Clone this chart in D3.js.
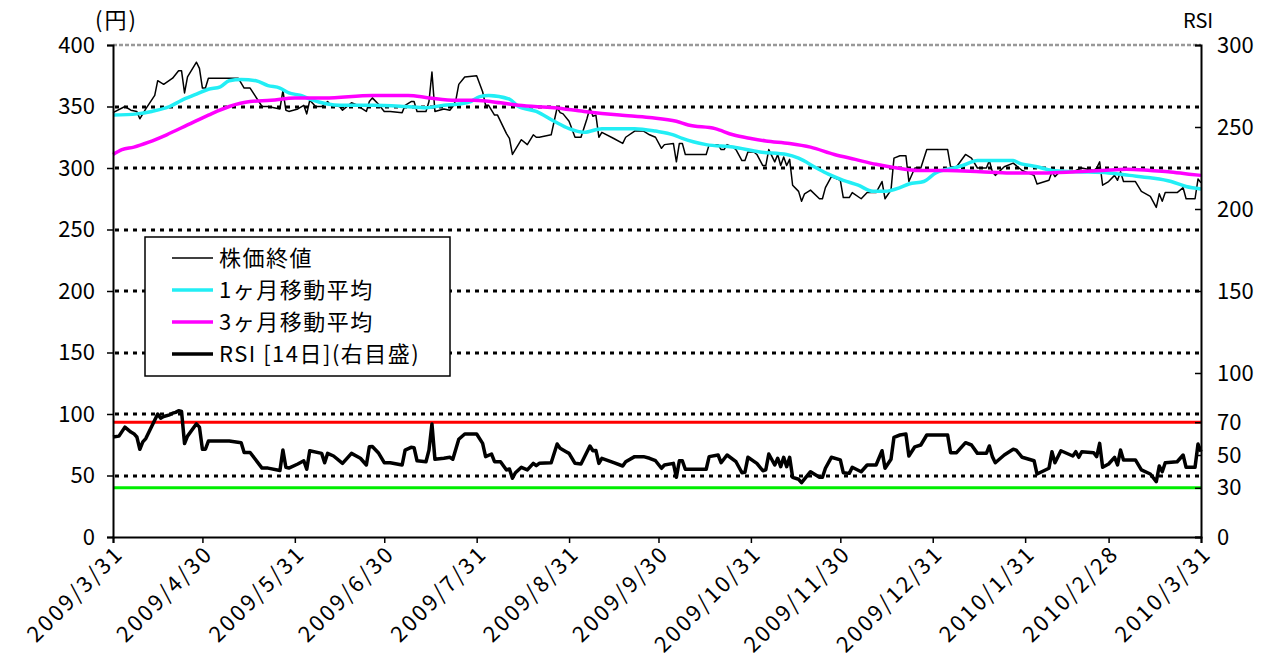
<!DOCTYPE html>
<html>
<head>
<meta charset="utf-8">
<script src="https://cdn.jsdelivr.net/npm/d3@7"></script>
<style>
  body { margin: 0; background: #fff; }
  text { font-family: "Noto Sans CJK JP", "Noto Sans", sans-serif; fill: #000; }
</style>
</head>
<body>
<div class="rsiChart"></div>
<script>
// closing price (yen)
const closePrices = [
  ["2009-03-31",345],["2009-04-04",350],["2009-04-06",347],["2009-04-08",346],["2009-04-09",340],["2009-04-11",348],["2009-04-14",359],["2009-04-15",371],["2009-04-17",368],["2009-04-20",373],["2009-04-22",379],["2009-04-23",379],["2009-04-24",361],["2009-04-25",374],["2009-04-28",386],["2009-04-29",381],["2009-04-30",365],["2009-05-01",365],["2009-05-02",373],["2009-05-09",373],["2009-05-12",373],["2009-05-14",365],["2009-05-16",365],["2009-05-20",350],["2009-05-22",350],["2009-05-26",348],["2009-05-27",363],["2009-05-28",347],["2009-05-29",346],
  ["2009-06-01",348],["2009-06-03",351],["2009-06-04",344],["2009-06-05",355],["2009-06-07",350],["2009-06-09",350],["2009-06-11",354],["2009-06-12",351],["2009-06-15",350],["2009-06-16",347],["2009-06-19",353],["2009-06-21",351],["2009-06-22",349],["2009-06-24",346],["2009-06-25",354],["2009-06-26",357],["2009-06-28",352],["2009-06-30",346],
  ["2009-07-02",346],["2009-07-06",345],["2009-07-07",351],["2009-07-09",354],["2009-07-10",354],["2009-07-11",346],["2009-07-14",346],["2009-07-15",354],["2009-07-16",378],["2009-07-17",346],["2009-07-20",348],["2009-07-22",347],["2009-07-23",350],["2009-07-24",355],["2009-07-25",368],["2009-07-27",374],["2009-07-31",375],
  ["2009-08-02",362],["2009-08-03",351],["2009-08-04",351],["2009-08-06",343],["2009-08-07",343],["2009-08-10",328],["2009-08-11",324],["2009-08-12",311],["2009-08-15",323],["2009-08-17",319],["2009-08-19",327],["2009-08-20",325],["2009-08-21",325],["2009-08-25",327],["2009-08-26",338],["2009-08-27",349],["2009-08-28",345],["2009-08-29",344],["2009-08-31",338],
  ["2009-09-02",325],["2009-09-04",325],["2009-09-06",340],["2009-09-07",349],["2009-09-08",342],["2009-09-09",343],["2009-09-10",325],["2009-09-11",329],["2009-09-15",324],["2009-09-18",320],["2009-09-19",325],["2009-09-22",330],["2009-09-25",330],["2009-09-27",327],["2009-09-29",325],
  ["2009-10-01",316],["2009-10-02",319],["2009-10-05",320],["2009-10-06",305],["2009-10-07",320],["2009-10-08",320],["2009-10-09",311],["2009-10-16",311],["2009-10-17",319],["2009-10-20",319],["2009-10-21",315],["2009-10-22",315],["2009-10-23",319],["2009-10-25",317],["2009-10-26",315],["2009-10-28",306],["2009-10-29",306],["2009-10-30",313],
  ["2009-11-01",313],["2009-11-02",311],["2009-11-04",302],["2009-11-05",302],["2009-11-06",315],["2009-11-08",305],["2009-11-09",311],["2009-11-10",302],["2009-11-11",309],["2009-11-12",302],["2009-11-13",307],["2009-11-14",286],["2009-11-16",281],["2009-11-17",273],["2009-11-18",279],["2009-11-20",282],["2009-11-23",275],["2009-11-24",275],["2009-11-25",284],["2009-11-27",293],["2009-11-30",290],
  ["2009-12-01",276],["2009-12-03",276],["2009-12-04",280],["2009-12-07",275],["2009-12-09",280],["2009-12-12",280],["2009-12-14",289],["2009-12-15",275],["2009-12-17",282],["2009-12-18",308],["2009-12-20",310],["2009-12-22",310],["2009-12-23",289],["2009-12-25",300],["2009-12-27",300],["2009-12-29",315],
  ["2010-01-05",315],["2010-01-06",301],["2010-01-08",301],["2010-01-11",311],["2010-01-13",308],["2010-01-15",300],["2010-01-18",300],["2010-01-19",306],["2010-01-20",297],["2010-01-21",294],["2010-01-24",301],["2010-01-27",304],["2010-01-30",298],
  ["2010-02-03",294],["2010-02-04",287],["2010-02-08",290],["2010-02-09",297],["2010-02-10",293],["2010-02-12",298],["2010-02-15",297],["2010-02-17",298],["2010-02-19",300],["2010-02-23",298],["2010-02-24",300],["2010-02-25",305],["2010-02-26",286],["2010-02-28",289],
  ["2010-03-02",294],["2010-03-03",290],["2010-03-04",297],["2010-03-05",289],["2010-03-09",289],["2010-03-11",281],["2010-03-14",277],["2010-03-16",268],["2010-03-17",279],["2010-03-18",273],["2010-03-19",280],["2010-03-23",280],["2010-03-25",284],["2010-03-26",275],["2010-03-29",275],["2010-03-30",291],["2010-03-31",288]
];

// 1 month moving average
const ma1Month = [
  ["2009-03-31",343],["2009-04-08",344],["2009-04-13",346],["2009-04-19",350],["2009-04-23",355],["2009-04-28",360],["2009-05-02",364],["2009-05-06",366],["2009-05-09",371],["2009-05-13",372],["2009-05-18",371],["2009-05-22",367],["2009-05-26",365],["2009-05-29",361],
  ["2009-06-02",359],["2009-06-05",356],["2009-06-11",352],["2009-06-15",351],["2009-06-26",351],["2009-07-07",350],["2009-07-14",349],["2009-07-20",351],["2009-07-25",352],["2009-07-29",354],
  ["2009-08-01",358],["2009-08-04",359],["2009-08-11",356],["2009-08-14",350],["2009-08-20",346],["2009-08-26",338],["2009-08-31",332],["2009-09-05",329],["2009-09-11",332],["2009-09-22",332],["2009-09-29",330],
  ["2009-10-05",327],["2009-10-08",324],["2009-10-16",319],["2009-10-25",317],["2009-11-03",313],["2009-11-12",311],["2009-11-16",308],["2009-11-22",300],["2009-11-26",295],
  ["2009-12-01",290],["2009-12-06",286],["2009-12-11",281],["2009-12-15",281],["2009-12-20",284],["2009-12-23",287],["2009-12-28",289],
  ["2010-01-01",296],["2010-01-07",300],["2010-01-10",302],["2010-01-15",306],["2010-01-21",306],["2010-01-27",306],["2010-01-29",304],
  ["2010-02-04",301],["2010-02-09",298],["2010-02-17",297],["2010-02-28",296],["2010-03-07",294],["2010-03-14",292],["2010-03-21",289],["2010-03-26",285],["2010-03-31",283]
];

// 3 month moving average
const ma3Month = [
  ["2009-03-31",311],["2009-04-03",315],["2009-04-07",317],["2009-04-12",321],["2009-04-18",327],["2009-04-25",335],["2009-05-02",343],["2009-05-09",350],["2009-05-16",354],["2009-05-23",355],["2009-05-31",357],
  ["2009-06-10",357],["2009-06-26",359],["2009-07-08",359],["2009-07-15",357],["2009-07-24",355],["2009-07-30",355],["2009-08-08",353],["2009-08-14",351],["2009-08-26",349],
  ["2009-09-05",346],["2009-09-17",343],["2009-09-27",341],["2009-10-06",338],["2009-10-10",335],["2009-10-19",332],["2009-10-25",327],["2009-10-31",324],
  ["2009-11-05",322],["2009-11-13",320],["2009-11-20",317],["2009-11-28",311],["2009-12-05",307],["2009-12-12",303],["2009-12-19",300],["2009-12-26",298],
  ["2010-01-05",298],["2010-01-16",297],["2010-01-26",296],["2010-02-06",296],["2010-02-17",297],["2010-02-26",298],["2010-03-06",299],["2010-03-14",298],["2010-03-20",297],["2010-03-27",295],["2010-03-31",294]
];

// RSI 14 days (right scale)
const rsi14 = [
  ["2009-03-31",61],["2009-04-02",61.5],["2009-04-04",67],["2009-04-06",64],["2009-04-07",63],["2009-04-08",61],["2009-04-09",53.5],["2009-04-10",58],["2009-04-11",60],["2009-04-15",75],["2009-04-16",72.5],["2009-04-17",73.5],["2009-04-19",74.5],["2009-04-20",75.5],["2009-04-21",76],["2009-04-22",77],["2009-04-23",76.5],["2009-04-24",57],["2009-04-25",61.5],["2009-04-28",69],["2009-04-29",67],["2009-04-30",53.5],
  ["2009-05-01",53.5],["2009-05-02",58.5],["2009-05-09",58.5],["2009-05-13",57.5],["2009-05-14",51.5],["2009-05-16",51.5],["2009-05-20",42],["2009-05-22",42],["2009-05-26",40.5],["2009-05-27",53],["2009-05-28",42.5],["2009-05-29",42],
  ["2009-06-01",44.5],["2009-06-03",46.5],["2009-06-04",41.3],["2009-06-05",52.6],["2009-06-09",51],["2009-06-10",45.3],["2009-06-11",51],["2009-06-13",49.4],["2009-06-16",44.9],["2009-06-19",51],["2009-06-22",48],["2009-06-24",43.9],["2009-06-25",55],["2009-06-26",55.2],["2009-06-28",51.4],["2009-06-30",45.3],
  ["2009-07-02",45.3],["2009-07-06",43.9],["2009-07-07",53],["2009-07-09",54.7],["2009-07-10",54.5],["2009-07-11",46.5],["2009-07-14",45.9],["2009-07-15",53],["2009-07-16",68.9],["2009-07-17",47.4],["2009-07-20",48],["2009-07-22",48.6],["2009-07-23",47.4],["2009-07-25",59.6],["2009-07-27",62.8],["2009-07-31",62.8],
  ["2009-08-02",57.1],["2009-08-03",49],["2009-08-05",50.6],["2009-08-06",45.9],["2009-08-08",45.9],["2009-08-10",40.9],["2009-08-11",41.5],["2009-08-12",35.8],["2009-08-13",39.2],["2009-08-15",42.5],["2009-08-17",40.9],["2009-08-19",44.9],["2009-08-20",43.5],["2009-08-21",44.9],["2009-08-25",45.3],["2009-08-27",56.7],["2009-08-28",54.1],["2009-08-30",52],["2009-08-31",51],
  ["2009-09-02",44.9],["2009-09-04",44.5],["2009-09-07",55.5],["2009-09-08",52.6],["2009-09-09",52.8],["2009-09-10",44.9],["2009-09-11",48],["2009-09-15",45.3],["2009-09-18",43.3],["2009-09-19",45.9],["2009-09-22",49],["2009-09-25",49],["2009-09-27",48],["2009-09-29",46.5],
  ["2009-10-01",41.9],["2009-10-02",43.9],["2009-10-05",44.9],["2009-10-06",36.4],["2009-10-07",46.5],["2009-10-08",46.5],["2009-10-09",41.3],["2009-10-16",41.3],["2009-10-17",49],["2009-10-20",50],["2009-10-21",45.3],["2009-10-23",50],["2009-10-26",45.9],["2009-10-28",39.2],["2009-10-29",39.5],["2009-10-30",48.6],
  ["2009-11-02",44.9],["2009-11-04",40.4],["2009-11-05",41],["2009-11-06",50.6],["2009-11-08",43.9],["2009-11-09",48],["2009-11-10",42.9],["2009-11-11",48.6],["2009-11-12",42.9],["2009-11-13",48.6],["2009-11-14",36.4],["2009-11-16",35.2],["2009-11-17",33.1],["2009-11-20",39.8],["2009-11-23",36.4],["2009-11-24",36.4],["2009-11-25",41.9],["2009-11-27",48.6],["2009-11-30",47],
  ["2009-12-01",39.2],["2009-12-03",38.8],["2009-12-04",42.5],["2009-12-07",39.8],["2009-12-09",43.9],["2009-12-12",43.9],["2009-12-14",52.6],["2009-12-15",41.9],["2009-12-17",47.4],["2009-12-18",60.8],["2009-12-20",62.2],["2009-12-22",62.8],["2009-12-23",49.4],["2009-12-25",55],["2009-12-27",56.1],["2009-12-29",62.2],
  ["2010-01-05",62.2],["2010-01-06",51.4],["2010-01-08",51.4],["2010-01-11",57.5],["2010-01-13",56.1],["2010-01-15",51],["2010-01-18",51],["2010-01-19",55.5],["2010-01-20",49],["2010-01-21",45.3],["2010-01-24",50],["2010-01-27",53.5],["2010-01-28",53],["2010-01-30",48.6],
  ["2010-02-03",46.5],["2010-02-04",38.4],["2010-02-08",41.9],["2010-02-09",52],["2010-02-10",45.3],["2010-02-12",52.6],["2010-02-16",49.4],["2010-02-17",52],["2010-02-18",48.6],["2010-02-19",52],["2010-02-23",51.4],["2010-02-24",49],["2010-02-25",57.1],["2010-02-26",42.5],["2010-02-28",44.5],
  ["2010-03-02",48.6],["2010-03-03",44],["2010-03-04",53],["2010-03-05",47],["2010-03-09",47],["2010-03-11",40.9],["2010-03-14",38.4],["2010-03-16",33.7],["2010-03-17",43.3],["2010-03-18",39.8],["2010-03-19",45.3],["2010-03-23",45.9],["2010-03-25",50],["2010-03-26",42.5],["2010-03-29",42.5],["2010-03-30",56.7],["2010-03-31",52]
];

const xTickDates = ["2009-03-31","2009-04-30","2009-05-31","2009-06-30","2009-07-31","2009-08-31","2009-09-30","2009-10-31","2009-11-30","2009-12-31","2010-01-31","2010-02-28","2010-03-31"];
const leftTicks = [0, 50, 100, 150, 200, 250, 300, 350, 400];
const rightTicks = [0, 30, 50, 70, 100, 150, 200, 250, 300];
const rsiBands = [70, 30];
const legendLabels = ["株価終値", "1ヶ月移動平均", "3ヶ月移動平均", "RSI [14日](右目盛)"];

const width = 1272, height = 665;
const margin = { left: 113, right: 71, top: 45, bottom: 128 };
const parse = d3.timeParse("%Y-%m-%d");
const fmtTick = d3.timeFormat("%Y/%-m/%-d");

const svg = d3.select(".rsiChart").append("svg")
  .attr("width", width)
  .attr("height", height);

const x = d3.scaleTime()
  .domain([parse("2009-03-31"), parse("2010-03-31")])
  .range([margin.left, width - margin.right]);
const y = d3.scaleLinear().domain([0, 400]).range([height - margin.bottom, margin.top]);
const yR = d3.scaleLinear().domain([0, 300]).range([height - margin.bottom, margin.top]);

const x0 = margin.left, x1 = width - margin.right;
const yBottom = height - margin.bottom;

// grid lines
svg.append("g").selectAll("line")
  .data(leftTicks.filter(d => d > 0 && d < 400))
  .enter().append("line")
  .attr("x1", x0 + 2).attr("x2", x1)
  .attr("y1", d => Math.round(y(d))).attr("y2", d => Math.round(y(d)))
  .style("stroke", "#000")
  .style("stroke-width", 3)
  .style("stroke-dasharray", "4,5");

svg.append("line")
  .attr("x1", x0).attr("x2", x1)
  .attr("y1", y(400)).attr("y2", y(400))
  .style("stroke", "#999")
  .style("stroke-width", 2.5)
  .style("stroke-dasharray", "4,2");

// RSI 70 / 30 bands
svg.append("g").selectAll("line")
  .data(rsiBands)
  .enter().append("line")
  .attr("x1", x0).attr("x2", x1)
  .attr("y1", d => yR(d)).attr("y2", d => yR(d))
  .style("stroke", d => d === 70 ? "#ff0000" : "#00ee00")
  .style("stroke-width", 3);

const toPts = arr => arr.map(d => [parse(d[0]), d[1]]);
const lineL = d3.line().x(d => x(d[0])).y(d => y(d[1]));
const lineR = d3.line().x(d => x(d[0])).y(d => yR(d[1]));

svg.append("path").datum(toPts(closePrices))
  .attr("d", lineL).style("fill", "none").style("stroke", "#000").style("stroke-width", 1.5)
  .style("stroke-linejoin", "round");
svg.append("path").datum(toPts(ma1Month))
  .attr("d", lineL.curve(d3.curveMonotoneX)).style("fill", "none").style("stroke", "#22eef5").style("stroke-width", 3.5);
svg.append("path").datum(toPts(ma3Month))
  .attr("d", lineL.curve(d3.curveMonotoneX)).style("fill", "none").style("stroke", "#ff00ff").style("stroke-width", 3.5);
svg.append("path").datum(toPts(rsi14))
  .attr("d", lineR).style("fill", "none").style("stroke", "#000").style("stroke-width", 3.5)
  .style("stroke-linejoin", "round");

// axes
const axisL = svg.append("g")
  .attr("transform", `translate(${x0},0)`)
  .call(d3.axisLeft(y).tickValues(leftTicks).tickSize(6).tickPadding(12));
const axisR = svg.append("g")
  .attr("transform", `translate(${x1},0)`)
  .call(d3.axisRight(yR).tickValues(rightTicks).tickSize(-6).tickPadding(16));
const axisB = svg.append("g")
  .attr("transform", `translate(0,${yBottom})`)
  .call(d3.axisBottom(x).tickValues(xTickDates.map(parse)).tickSize(6).tickFormat(""));

[axisL, axisR, axisB].forEach(g => {
  g.select(".domain").style("stroke", "#000").style("stroke-width", 2);
  g.selectAll(".tick line").style("stroke", "#000").style("stroke-width", 1.5);
  g.selectAll("text").style("font-size", "22px").style("font-family", "'Noto Sans CJK JP', sans-serif");
});

svg.append("g").selectAll("text")
  .data(xTickDates)
  .enter().append("text")
  .attr("transform", d => `translate(${x(parse(d)) + 1},${yBottom + 7}) rotate(-45)`)
  .attr("text-anchor", "end")
  .attr("dy", "0.7em")
  .style("font-size", "22px")
  .style("letter-spacing", "2.5px")
  .text(d => fmtTick(parse(d)));

svg.append("text").attr("x", 95).attr("y", 28).style("font-size", "22px").style("letter-spacing", "2px").text("(円)");
svg.append("text").attr("x", 1183).attr("y", 28).style("font-size", "20px").text("RSI");

// legend
const legend = svg.append("g");
legend.append("rect")
  .attr("x", 145).attr("y", 237).attr("width", 305).attr("height", 139)
  .style("fill", "#fff").style("stroke", "#000").style("stroke-width", 1.5);
const legendStyles = [
  { color: "#000", w: 1.5 },
  { color: "#22eef5", w: 3.5 },
  { color: "#ff00ff", w: 3.5 },
  { color: "#000", w: 3.5 }
];
const rows = legend.selectAll("g.row")
  .data(legendLabels)
  .enter().append("g")
  .attr("transform", (d, i) => `translate(0,${258 + i * 32})`);
rows.append("line")
  .attr("x1", 172).attr("x2", 213)
  .style("stroke", (d, i) => legendStyles[i].color)
  .style("stroke-width", (d, i) => legendStyles[i].w);
rows.append("text")
  .attr("x", 219).attr("dy", "0.36em")
  .style("font-size", "22px")
  .style("letter-spacing", "1.5px")
  .text(d => d);
</script>
</body>
</html>
